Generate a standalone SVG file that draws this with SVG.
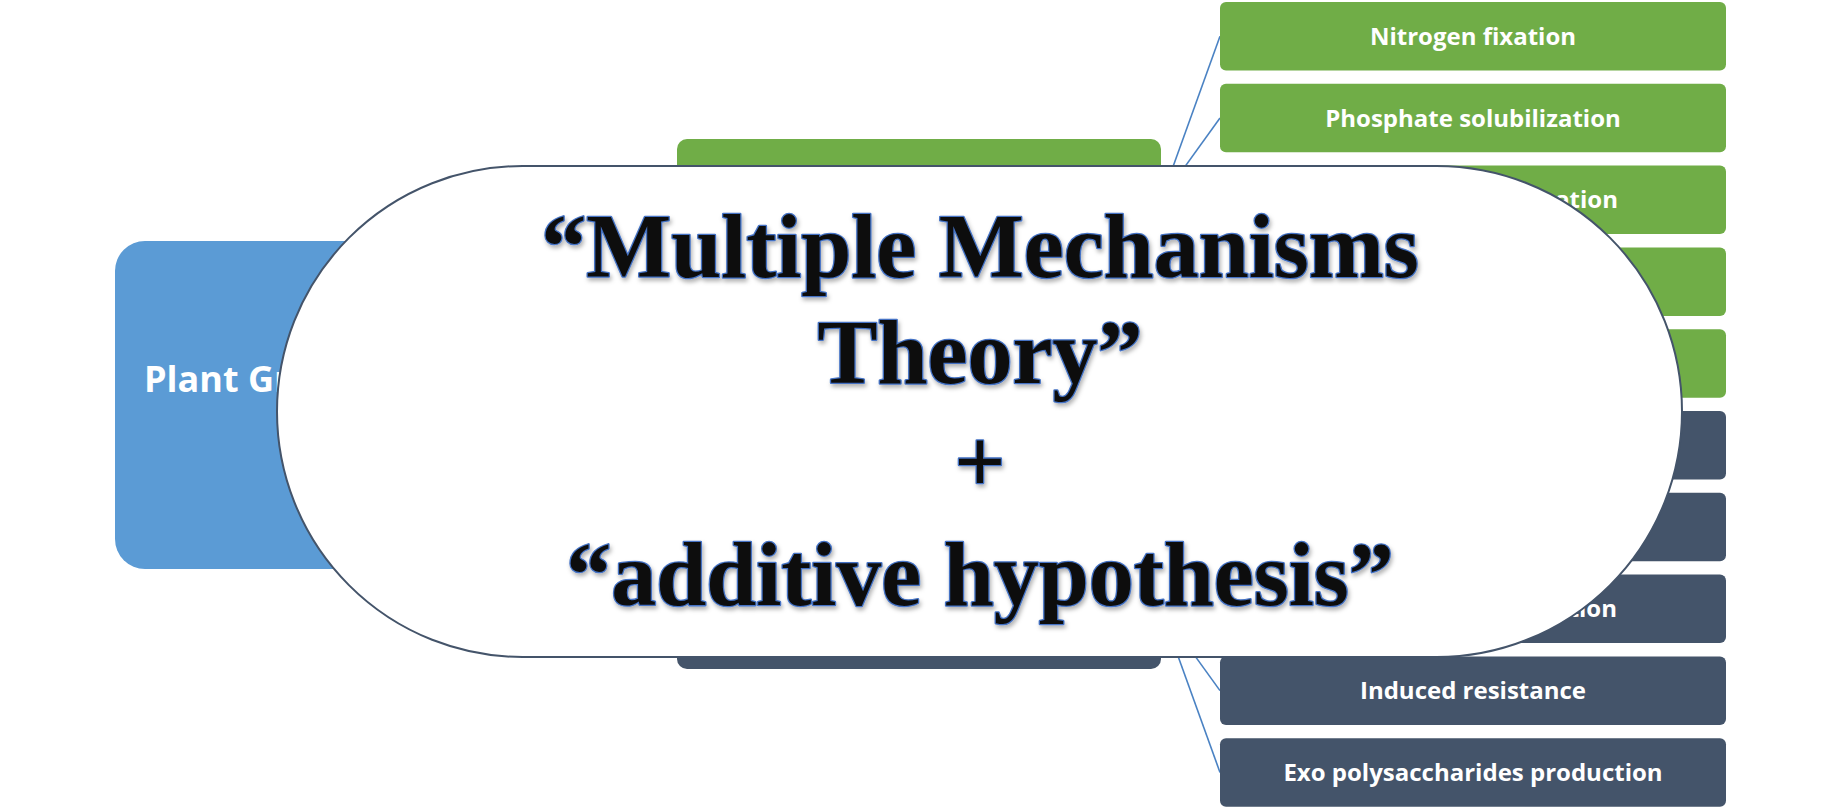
<svg xmlns="http://www.w3.org/2000/svg" width="1842" height="809" viewBox="0 0 1842 809">
<defs>
<style>
.g{fill:#70AD47}
.d{fill:#44546A}
.lbl{font-family:"Open Sans","Noto Sans","Liberation Sans",sans-serif;font-weight:bold;font-size:24px;fill:#FFFFFF;text-anchor:middle}
.lblend{font-family:"Open Sans","Noto Sans","Liberation Sans",sans-serif;font-weight:bold;font-size:24px;fill:#FFFFFF;text-anchor:end}
.con line{stroke:#4A82C3;stroke-width:1.6}
.big{font-family:"Liberation Serif","Times New Roman",serif;font-weight:bold;font-size:90px;fill:#0D0D0D;stroke:#4472C4;stroke-width:2.6;paint-order:stroke fill;stroke-linejoin:round;text-anchor:middle}
</style>
<filter id="sh" x="-5%" y="-20%" width="110%" height="150%">
<feDropShadow dx="1.5" dy="3" stdDeviation="2" flood-color="#000" flood-opacity="0.3"/>
</filter>
</defs>
<rect width="1842" height="809" fill="#FFFFFF"/>
<g id="connectors" class="con">
<line x1="1161" y1="199.9" x2="1220" y2="36.2"/>
<line x1="1161" y1="199.9" x2="1220" y2="118"/>
<line x1="1161" y1="199.9" x2="1220" y2="199.9"/>
<line x1="1161" y1="199.9" x2="1220" y2="281.6"/>
<line x1="1161" y1="199.9" x2="1220" y2="363.4"/>
<line x1="1161" y1="608.9" x2="1220" y2="445.2"/>
<line x1="1161" y1="608.9" x2="1220" y2="527"/>
<line x1="1161" y1="608.9" x2="1220" y2="608.9"/>
<line x1="1161" y1="608.9" x2="1220" y2="690.6"/>
<line x1="1161" y1="608.9" x2="1220" y2="772.4"/>
</g>
<g id="root">
<rect x="115" y="241" width="480" height="328" rx="30" fill="#5B9BD5"/>
<text x="144" y="392" font-family="Open Sans, Noto Sans, Liberation Sans, sans-serif" font-weight="bold" font-size="36" fill="#FFFFFF">Plant Gr</text>
</g>
<g id="mid-green"><rect class="g" x="677" y="139" width="484" height="121.5" rx="10"/></g>
<g id="mid-dark"><rect class="d" x="677" y="548" width="484" height="121" rx="10"/></g>
<g id="n1"><rect class="g" x="1220" y="2" width="506" height="68.5" rx="6"/><text class="lbl" x="1473" y="45">Nitrogen fixation</text></g>
<g id="n2"><rect class="g" x="1220" y="83.8" width="506" height="68.5" rx="6"/><text class="lbl" x="1473" y="126.8">Phosphate solubilization</text></g>
<g id="n3"><rect class="g" x="1220" y="165.6" width="506" height="68.5" rx="6"/><text class="lblend" x="1618" y="207.5">ation</text></g>
<g id="n4"><rect class="g" x="1220" y="247.4" width="506" height="68.5" rx="6"/></g>
<g id="n5"><rect class="g" x="1220" y="329.2" width="506" height="68.5" rx="6"/></g>
<g id="n6"><rect class="d" x="1220" y="411" width="506" height="68.5" rx="6"/></g>
<g id="n7"><rect class="d" x="1220" y="492.8" width="506" height="68.5" rx="6"/></g>
<g id="n8"><rect class="d" x="1220" y="574.6" width="506" height="68.5" rx="6"/><text class="lblend" x="1617" y="617">tion</text></g>
<g id="n9"><rect class="d" x="1220" y="656.4" width="506" height="68.5" rx="6"/><text class="lbl" x="1473" y="699.4">Induced resistance</text></g>
<g id="n10"><rect class="d" x="1220" y="738.2" width="506" height="68.5" rx="6"/><text class="lbl" x="1473" y="781.2">Exo polysaccharides production</text></g>
<g id="overlay">
<rect x="277" y="166" width="1405" height="491" rx="245.5" ry="245.5" fill="#FFFFFF" stroke="#44546A" stroke-width="2"/>
<g filter="url(#sh)">
<text class="big" x="980" y="277">“Multiple Mechanisms</text>
<text class="big" x="980" y="383">Theory”</text>
<text class="big" x="980" y="492">+</text>
<text class="big" x="980" y="605">“additive hypothesis”</text>
</g>
</g>
</svg>
